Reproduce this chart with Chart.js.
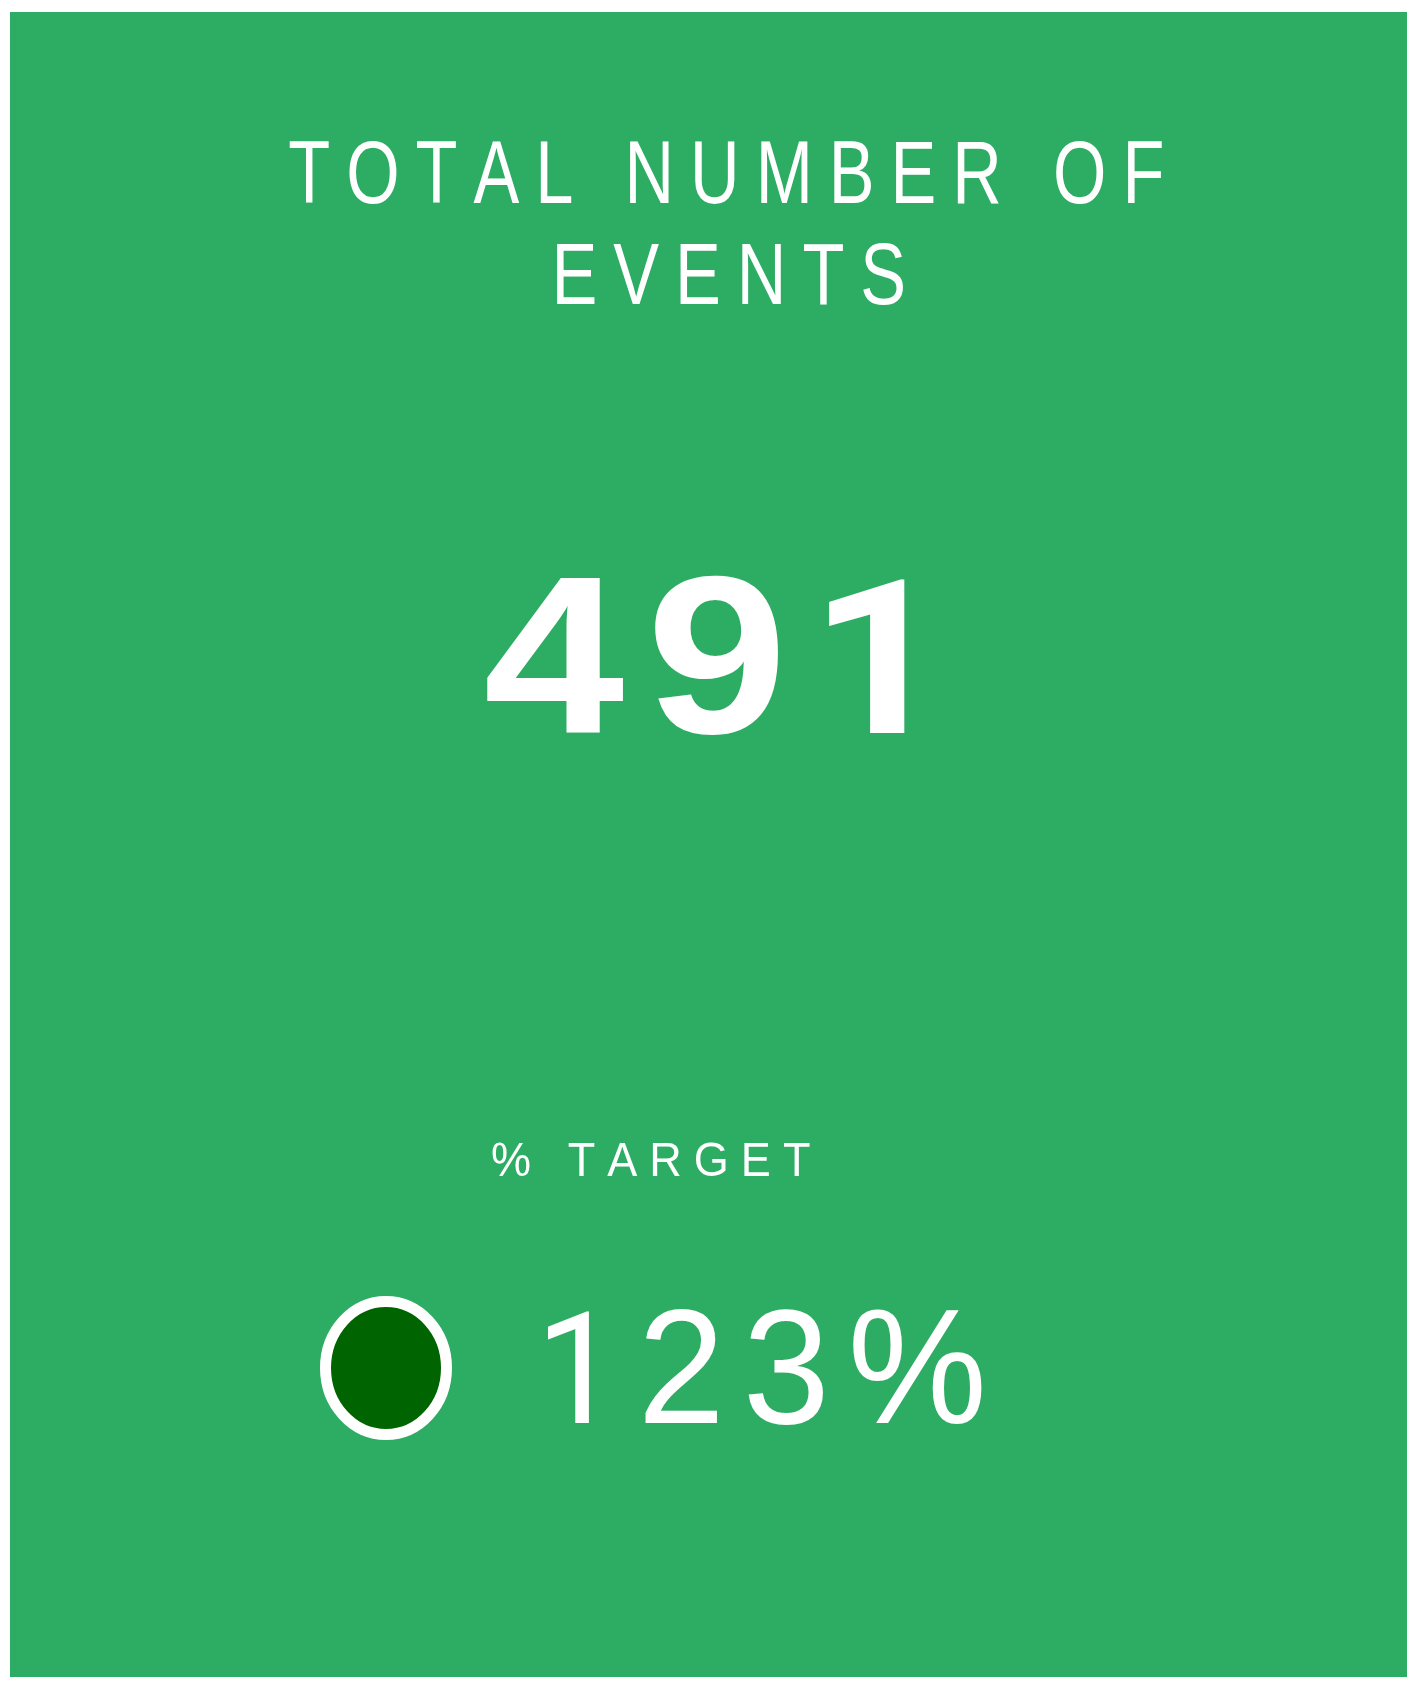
<!DOCTYPE html>
<html>
<head>
<meta charset="utf-8">
<script src="https://cdn.jsdelivr.net/npm/chart.js@4/dist/chart.umd.min.js"></script>
<style>
  body { margin: 0; background: #fff; }
  canvas { display: block; }
</style>
</head>
<body>
<canvas id="kpi" width="1411" height="1685"></canvas>
<script>
// kpi values
const titleLines = ['TOTAL NUMBER OF', 'EVENTS'];
const totalEvents = [491];
const targetLabel = ['% TARGET'];
const targetPct = [123];

const CARD_GREEN = '#2dad63';
const FONT = '"Liberation Sans", Arial, sans-serif';
// liberation's "1" has a foot, arial's doesn't -> borrow roboto's
const GLYPH_SWAP = { '1': 'Roboto, Arial, sans-serif' };

function setFont(ctx, weight, size, fam) {
    ctx.font = weight + ' ' + size + 'px ' + fam;
}

// draws text char by char, squeezed/stretched so the glyphs span left..right
function drawFit(ctx, text, left, right, baseline, capH, refChar, weight, ls, swap) {
    swap = swap || {};
    const chars = [...text];
    const fams = chars.map(c => swap[c] || FONT);
    const sizes = {};
    fams.forEach(f => {
        if (sizes[f]) return;
        setFont(ctx, weight, 100, f);
        sizes[f] = 100 * capH / ctx.measureText(refChar).actualBoundingBoxAscent;
    });
    const m = chars.map((c, i) => {
        setFont(ctx, weight, sizes[fams[i]], fams[i]);
        return ctx.measureText(c);
    });
    const n = chars.length;
    const inner = m.slice(0, -1).reduce((a, b) => a + b.width, 0) +
        m[n - 1].actualBoundingBoxRight + m[0].actualBoundingBoxLeft;
    const s = (right - left - (n - 1) * ls) / inner;
    let x = left + s * m[0].actualBoundingBoxLeft;
    chars.forEach((c, i) => {
        setFont(ctx, weight, sizes[fams[i]], fams[i]);
        ctx.save();
        ctx.translate(x, baseline);
        ctx.scale(s, 1);
        ctx.fillText(c, 0, 0);
        ctx.restore();
        x += m[i].width * s + ls;
    });
}

const kpiCard = {
    id: 'kpiCard',
    beforeDraw(chart) {
        const ctx = chart.ctx;
        ctx.save();
        ctx.fillStyle = CARD_GREEN;
        ctx.fillRect(10, 12, 1397, 1665);

        ctx.fillStyle = '#fff';
        ctx.textAlign = 'left';
        ctx.textBaseline = 'alphabetic';
        drawFit(ctx, titleLines[0], 289, 1162, 203, 61, 'H', 'normal', 16);
        drawFit(ctx, titleLines[1], 557, 903, 304, 60, 'H', 'normal', 16);

        drawFit(ctx, String(totalEvents[0]), 487, 905, 733, 155, '1', 'bold', 22, GLYPH_SWAP);

        drawFit(ctx, targetLabel[0], 492, 810, 1176, 33.3, 'T', 'normal', 12);

        // status dot: dark green when on/over target
        const pct = targetPct[0];
        ctx.beginPath();
        ctx.save();
        ctx.translate(386, 1368);
        ctx.scale(60.5 / 66.5, 1);
        ctx.arc(0, 0, 66.5, 0, Math.PI * 2);
        ctx.restore();
        ctx.fillStyle = pct >= 100 ? '#006400' : '#c0392b';
        ctx.fill();
        ctx.lineWidth = 11;
        ctx.strokeStyle = '#fff';
        ctx.stroke();

        ctx.fillStyle = '#fff';
        drawFit(ctx, pct + '%', 548, 982, 1423, 112.7, '1', 'normal', 18, GLYPH_SWAP);
        ctx.restore();
    }
};

new Chart(document.getElementById('kpi'), {
    type: 'scatter',
    data: { datasets: [{ data: [] }] },
    options: {
        responsive: false,
        animation: false,
        events: [],
        plugins: { legend: { display: false }, tooltip: { enabled: false } },
        scales: { x: { display: false }, y: { display: false } }
    },
    plugins: [kpiCard]
});
</script>
</body>
</html>
